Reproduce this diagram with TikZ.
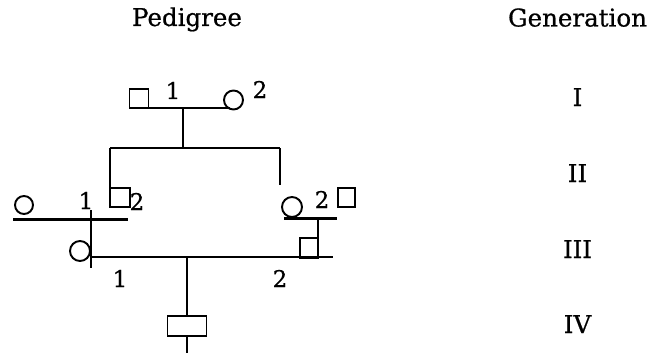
\documentclass[tikz,border=0pt]{standalone}
\usepackage{fontspec}
\setmainfont{DejaVu Serif}
\newfontfamily\labfont[FakeBold=0.7]{DejaVu Serif}
\begin{document}
\begin{tikzpicture}[x=1pt,y=-1pt,
  male/.style={draw,line width=1.9pt,minimum width=19pt,minimum height=19pt,inner sep=0pt,outer sep=0pt},
  female/.style={draw,circle,line width=1.9pt,minimum size=19pt,inner sep=0pt,outer sep=0pt},
  ln/.style={line width=2pt},
  mline/.style={line width=3pt},
  num/.style={font=\labfont\fontsize{23}{26}\selectfont,anchor=base,inner sep=0pt},
  lab/.style={font=\labfont\fontsize{24.5}{28}\selectfont,anchor=base,inner sep=0pt}]
\useasboundingbox (0,0) rectangle (653,353);
% headings
\node[lab] (ped) at (187,26) {Pedigree};
\node[lab] (gen) at (577.5,26.5) {Generation};
\node[lab] (g1) at (577.5,106) {I};
\node[lab] (g2) at (577.5,182) {II};
\node[lab] (g3) at (577.5,258) {III};
\node[lab] (g4) at (577.5,333) {IV};
% generation I
\node[male] (s1) at (139,98.5) {};
\node[female] (c2) at (233.5,100) {};
\node[num] (n11) at (173,99) {1};
\node[num] (n12) at (260,98) {2};
\draw[ln] (s1.south east) -- (s1.south east -| c2.250);
\coordinate (m1) at (183,108);
\coordinate (sb1) at (183,148);
\coordinate (sbL) at (110,148);
\coordinate (sbR) at (280,148);
\coordinate (endR) at (280,185);
\draw[ln] (m1) -- (sb1);
\draw[ln] (sbL) -- (sbR);
\draw[ln] (sbR) -- (endR);
% generation II left
\node[male,minimum width=20pt] (s22) at (120,197.5) {};
\draw[ln] (sbL) -- (s22.north west);
\node[female,minimum size=18pt] (c21) at (24,205) {};
\node[num] (n21) at (86,209) {1};
\node[num] (n22) at (137,210) {2};
\coordinate (mlLa) at (13,219);
\coordinate (mlLb) at (128,219);
\draw[mline] (mlLa) -- (mlLb);
\coordinate (vt) at (91,210);
\coordinate (vb) at (91,268);
\draw[ln] (vt) -- (vb);
% generation II right
\node[female,minimum size=20pt] (c23) at (292,207) {};
\node[num] (n23) at (322,208) {2};
\node[male,minimum width=17pt] (s24) at (346.5,197.5) {};
\coordinate (mlRa) at (284,218);
\coordinate (mlRb) at (337,218);
\coordinate (mR) at (318,218);
\draw[mline] (mlRa) -- (mlRb);
\node[male,minimum width=18pt,minimum height=20pt] (s32) at (309,248) {};
\draw[ln] (mR) -- (s32.north east);
% generation III
\node[female,minimum size=20pt] (c31) at (80,251) {};
\coordinate (h3a) at (92,257);
\coordinate (h3b) at (333,257);
\coordinate (h3m) at (187,257);
\draw[ln] (h3a) -- (h3b);
\node[num] (n31) at (120,287) {1};
\node[num] (n32) at (280,287) {2};
% generation IV
\node[male,minimum width=39pt,minimum height=20pt] (s4) at (187,326) {};
\draw[ln] (h3m) -- (s4.north);
\coordinate (bot) at (187,353);
\draw[ln] (s4.south) -- (bot);
\end{tikzpicture}
\end{document}
